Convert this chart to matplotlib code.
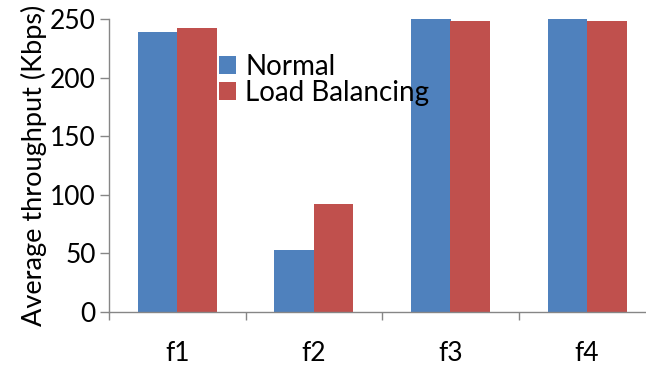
import matplotlib
matplotlib.use("Agg")
import matplotlib.pyplot as plt
import numpy as np

categories = ["f1", "f2", "f3", "f4"]
normal = [239, 53, 250, 250]
load_balancing = [242, 92, 248, 248]
yticks = [0, 50, 100, 150, 200, 250]

plt.rcParams['font.family'] = ['Lato', 'DejaVu Sans']

W, H = 646, 369
fig = plt.figure(figsize=(W/100, H/100), dpi=100)
ax = fig.add_axes([109/W, (H-312)/H, 546.4/W, 293/H])

x = np.arange(len(categories))
bw = 0.289
blue = "#4F81BD"
red = "#C0504D"
ax.bar(x - bw/2, normal, bw, color=blue, label="Normal")
ax.bar(x + bw/2, load_balancing, bw, color=red, label="Load Balancing")

ax.set_xlim(-0.5, 3.5)
ax.set_ylim(0, 250)
ax.set_yticks(yticks)
ax.set_xticks(x)
ax.set_xticklabels(categories)
ax.set_xticks(np.arange(-0.5, 4.0, 1.0), minor=True)
ax.tick_params(axis='x', which='major', length=0, pad=21, labelsize=19)
ax.tick_params(axis='x', which='minor', length=6, width=1, color='#868686', direction='out')
ax.tick_params(axis='y', length=6.5, width=1, color='#868686', direction='out', labelsize=19, pad=3)
for s in ['top', 'right']:
    ax.spines[s].set_visible(False)
for s in ['left', 'bottom']:
    ax.spines[s].set_color('#868686')
    ax.spines[s].set_linewidth(1)

ax.set_ylabel("Average throughput (Kbps)", fontsize=19.5, labelpad=2)

ax.legend(loc='upper left', bbox_to_anchor=(219/W, 1 - 54/H), bbox_transform=fig.transFigure,
          frameon=False, fontsize=20, handlelength=0.6, handleheight=0.6,
          handletextpad=0.35, labelspacing=0.0, borderpad=0, borderaxespad=0)

fig.savefig("out.png", dpi=100)
